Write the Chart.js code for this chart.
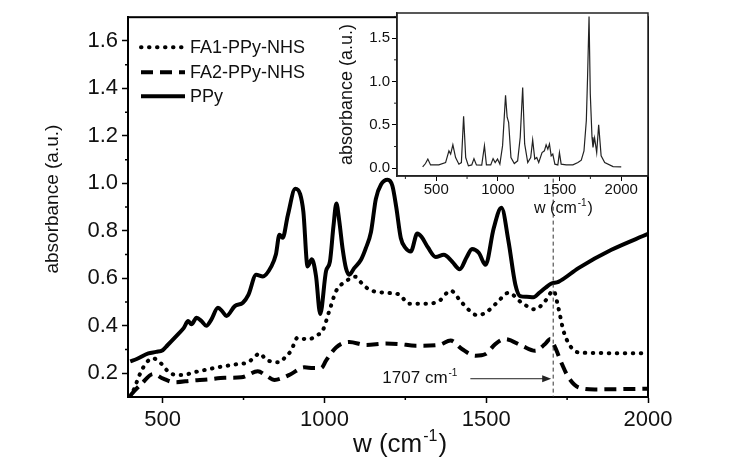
<!DOCTYPE html>
<html>
<head>
<meta charset="utf-8">
<title>Absorbance spectra</title>
<script src="https://cdn.jsdelivr.net/npm/chart.js@4.4.1/dist/chart.umd.min.js"></script>
<style>
html, body { margin: 0; padding: 0; background: #fff; }
#wrap { position: relative; width: 751px; height: 467px; }
#inset { position: absolute; left: 330px; top: 0; }
</style>
</head>
<body>
<div id="wrap">
<canvas id="main" width="751" height="467"></canvas>
<canvas id="inset" width="330" height="230"></canvas>
</div>
<script>
// main spectra: wavenumber (cm-1) and absorbance
var ppyW = [400, 420, 456, 480, 500, 515, 548, 565, 579, 589, 605, 620, 635, 650, 671, 685, 697, 723, 748, 765, 789, 810, 836, 850, 861, 871, 887, 910, 925, 935, 948, 961, 974, 987, 1005, 1017, 1028, 1037, 1046, 1056, 1067, 1077, 1092, 1113, 1128, 1144, 1159, 1175, 1195, 1210, 1222, 1236, 1251, 1267, 1287, 1300, 1320, 1344, 1369, 1395, 1418, 1440, 1456, 1477, 1498, 1523, 1547, 1569, 1590, 1605, 1625, 1646, 1665, 1682, 1700, 1723, 1785, 1887, 2000];
var ppyA = [0.25, 0.26, 0.284, 0.29, 0.297, 0.318, 0.365, 0.39, 0.42, 0.406, 0.434, 0.42, 0.40, 0.425, 0.476, 0.46, 0.441, 0.483, 0.497, 0.53, 0.615, 0.608, 0.65, 0.70, 0.783, 0.771, 0.866, 0.977, 0.955, 0.88, 0.65, 0.68, 0.61, 0.45, 0.63, 0.67, 0.82, 0.915, 0.84, 0.727, 0.64, 0.615, 0.643, 0.678, 0.727, 0.796, 0.935, 0.995, 1.015, 0.99, 0.9, 0.77, 0.727, 0.713, 0.789, 0.775, 0.73, 0.69, 0.699, 0.67, 0.638, 0.69, 0.724, 0.708, 0.657, 0.81, 0.897, 0.755, 0.574, 0.525, 0.522, 0.52, 0.54, 0.559, 0.577, 0.585, 0.643, 0.72, 0.787];

var fa1W = [400, 410, 430, 450, 470, 497, 515, 528, 558, 610, 671, 733, 764, 785, 800, 818, 836, 861, 880, 897, 917, 935, 954, 975, 994, 1015, 1036, 1066, 1095, 1115, 1138, 1190, 1231, 1261, 1313, 1354, 1390, 1425, 1472, 1498, 1533, 1569, 1610, 1651, 1682, 1708, 1723, 1739, 1759, 1785, 1850, 2000];
var fa1A = [0.10, 0.128, 0.197, 0.245, 0.263, 0.239, 0.21, 0.197, 0.193, 0.208, 0.225, 0.239, 0.246, 0.27, 0.284, 0.26, 0.249, 0.246, 0.27, 0.295, 0.35, 0.345, 0.344, 0.36, 0.378, 0.462, 0.546, 0.587, 0.607, 0.58, 0.553, 0.539, 0.532, 0.493, 0.493, 0.504, 0.548, 0.497, 0.445, 0.455, 0.497, 0.539, 0.497, 0.469, 0.504, 0.548, 0.476, 0.378, 0.316, 0.288, 0.285, 0.284];

var fa2W = [400, 405, 435, 471, 502, 538, 589, 640, 692, 743, 794, 820, 846, 870, 897, 938, 965, 990, 1005, 1036, 1077, 1128, 1190, 1231, 1282, 1354, 1390, 1425, 1467, 1498, 1528, 1559, 1610, 1651, 1682, 1698, 1713, 1734, 1754, 1785, 1836, 2000];
var fa2A = [0.105, 0.114, 0.156, 0.197, 0.177, 0.162, 0.169, 0.174, 0.181, 0.183, 0.208, 0.19, 0.172, 0.18, 0.197, 0.225, 0.222, 0.222, 0.253, 0.309, 0.332, 0.319, 0.325, 0.323, 0.316, 0.32, 0.338, 0.302, 0.274, 0.281, 0.323, 0.344, 0.316, 0.295, 0.323, 0.344, 0.309, 0.239, 0.183, 0.141, 0.132, 0.135];

// inset spectrum
var insW = [390, 413, 432, 454, 521, 576, 603, 617, 635, 657, 684, 704, 722, 739, 761, 788, 806, 826, 869, 891, 907, 942, 961, 978, 997, 1016, 1038, 1062, 1075, 1087, 1106, 1133, 1160, 1181, 1201, 1217, 1242, 1266, 1282, 1299, 1315, 1331, 1358, 1377, 1391, 1405, 1418, 1432, 1445, 1462, 1486, 1499, 1513, 1554, 1608, 1649, 1676, 1698, 1717, 1727, 1739, 1749, 1763, 1771, 1784, 1801, 1817, 1837, 1866, 1934, 2000];
var insA = [0.015, 0.054, 0.105, 0.038, 0.038, 0.065, 0.2, 0.163, 0.27, 0.123, 0.046, 0.065, 0.6, 0.123, 0.027, 0.038, 0.11, 0.038, 0.035, 0.26, 0.038, 0.038, 0.11, 0.065, 0.105, 0.046, 0.26, 0.84, 0.588, 0.53, 0.123, 0.054, 0.085, 0.356, 0.93, 0.28, 0.065, 0.123, 0.326, 0.105, 0.123, 0.065, 0.18, 0.2, 0.27, 0.22, 0.28, 0.143, 0.163, 0.046, 0.038, 0.18, 0.046, 0.038, 0.038, 0.065, 0.093, 0.2, 0.55, 1.05, 1.75, 0.86, 0.356, 0.24, 0.35, 0.18, 0.5, 0.143, 0.065, 0.019, 0.015];

// ticks
var xMajor = [500, 1000, 1500, 2000];
var xMinor = [750, 1250, 1750];
var yMajor = [0.2, 0.4, 0.6, 0.8, 1.0, 1.2, 1.4, 1.6];
var yMinor = [0.3, 0.5, 0.7, 0.9, 1.1, 1.3, 1.5];
var insXMajor = [500, 1000, 1500, 2000];
var insXMinor = [250, 750, 1250, 1750];
var insYMajor = [0.0, 0.5, 1.0, 1.5];
var insYMinor = [0.25, 0.75, 1.25, 1.75];

var peakW = 1707;
var FONT = '"Liberation Sans", Arial, sans-serif';

function pts(ws, as) {
    return ws.map(function (w, i) { return {x: w, y: as[i]}; });
}
function setTicks(majors, minors) {
    return function (scale) {
        scale.ticks = majors.concat(minors).sort(function (a, b) { return a - b; })
            .map(function (v) { return {value: v}; });
    };
}
function isMajor(list, v) {
    return list.some(function (m) { return Math.abs(m - v) < 1e-6; });
}
function tickCol(list) {
    return function (c) { return c.tick && isMajor(list, c.tick.value) ? '#000' : 'rgba(0,0,0,0)'; };
}
// text with a superscript part, centred (or left aligned) at x on baseline y
function supText(ctx, base, sup, tail, x, y, size, left) {
    var small = Math.round(size * 0.6);
    ctx.font = size + 'px ' + FONT;
    var w1 = ctx.measureText(base).width, w3 = ctx.measureText(tail).width;
    ctx.font = small + 'px ' + FONT;
    var w2 = ctx.measureText(sup).width;
    var x0 = left ? x : x - (w1 + w2 + w3) / 2;
    ctx.textAlign = 'left';
    ctx.textBaseline = 'alphabetic';
    ctx.font = size + 'px ' + FONT;
    ctx.fillText(base, x0, y);
    ctx.font = small + 'px ' + FONT;
    ctx.fillText(sup, x0 + w1 + 1, y - size * 0.42);
    ctx.font = size + 'px ' + FONT;
    ctx.fillText(tail, x0 + w1 + w2 + 2, y);
}
function minorTicks(ctx, chart, xs, ys, len) {
    var a = chart.chartArea;
    ctx.beginPath();
    xs.forEach(function (v) {
        var px = chart.scales.x.getPixelForValue(v);
        ctx.moveTo(px, a.bottom); ctx.lineTo(px, a.bottom + len);
    });
    ys.forEach(function (v) {
        var py = chart.scales.y.getPixelForValue(v);
        ctx.moveTo(a.left - len, py); ctx.lineTo(a.left, py);
    });
    ctx.stroke();
}

var mainDecor = {
    id: 'mainDecor',
    afterDraw: function (chart) {
        var ctx = chart.ctx, a = chart.chartArea;
        var xs = chart.scales.x, ys = chart.scales.y;
        ctx.save();
        ctx.strokeStyle = '#000';
        ctx.lineWidth = 2;
        ctx.strokeRect(a.left, a.top, a.right - a.left, a.bottom - a.top);
        ctx.lineWidth = 1.5;
        minorTicks(ctx, chart, xMinor, yMinor, 3);

        // marker line at 1707
        var px = xs.getPixelForValue(peakW);
        ctx.strokeStyle = '#333';
        ctx.lineWidth = 1;
        ctx.setLineDash([4, 3]);
        ctx.beginPath();
        ctx.moveTo(px, ys.getPixelForValue(1.02));
        ctx.lineTo(px, a.bottom);
        ctx.stroke();
        ctx.setLineDash([]);

        // arrow + label
        var ay = ys.getPixelForValue(0.177);
        var x0 = xs.getPixelForValue(1451), x1 = px - 2;
        ctx.strokeStyle = '#222';
        ctx.beginPath();
        ctx.moveTo(x0, ay); ctx.lineTo(x1 - 6, ay);
        ctx.stroke();
        ctx.fillStyle = '#222';
        ctx.beginPath();
        ctx.moveTo(x1, ay); ctx.lineTo(x1 - 9, ay - 3.5); ctx.lineTo(x1 - 9, ay + 3.5);
        ctx.closePath();
        ctx.fill();
        ctx.fillStyle = '#111';
        supText(ctx, '1707 cm', '-1', '', xs.getPixelForValue(1179), ys.getPixelForValue(0.158), 17, true);

        // legend
        var rows = [30, 55, 79];
        chart.data.datasets.forEach(function (d, i) {
            var y = a.top + rows[i];
            ctx.strokeStyle = '#000';
            ctx.lineWidth = d.borderWidth;
            ctx.lineCap = d.borderCapStyle || 'butt';
            ctx.setLineDash(d.borderDash || []);
            ctx.beginPath();
            ctx.moveTo(a.left + 13, y); ctx.lineTo(a.left + 57, y);
            ctx.stroke();
            ctx.setLineDash([]);
            ctx.lineCap = 'butt';
            ctx.fillStyle = '#111';
            ctx.font = '18px ' + FONT;
            ctx.textAlign = 'left';
            ctx.textBaseline = 'middle';
            ctx.fillText(d.label, a.left + 62, y + 1);
        });

        // axis titles
        ctx.fillStyle = '#111';
        supText(ctx, 'w (cm', '-1', ')', (a.left + a.right) / 2 + 11, a.bottom + 55, 26, false);
        ctx.save();
        ctx.translate(a.left - 75, (a.top + a.bottom) / 2 - 8);
        ctx.rotate(-Math.PI / 2);
        ctx.font = '19px ' + FONT;
        ctx.textAlign = 'center';
        ctx.textBaseline = 'middle';
        ctx.fillText('absorbance (a.u.)', 0, 0);
        ctx.restore();
        ctx.restore();
    }
};

var insetDecor = {
    id: 'insetDecor',
    beforeDraw: function (chart) {
        var ctx = chart.ctx, a = chart.chartArea;
        ctx.save();
        ctx.fillStyle = '#fff';
        ctx.fillRect(a.left, a.top, a.right - a.left, a.bottom - a.top);
        ctx.restore();
    },
    afterDraw: function (chart) {
        var ctx = chart.ctx, a = chart.chartArea;
        ctx.save();
        ctx.strokeStyle = '#222';
        ctx.lineWidth = 1.5;
        ctx.strokeRect(a.left, a.top, a.right - a.left, a.bottom - a.top);
        ctx.lineWidth = 1;
        minorTicks(ctx, chart, insXMinor, insYMinor, 3);
        ctx.fillStyle = '#111';
        supText(ctx, 'w (cm', '-1', ')', (a.left + a.right) / 2 + 40, a.bottom + 37, 16, false);
        ctx.translate(a.left - 50, (a.top + a.bottom) / 2);
        ctx.rotate(-Math.PI / 2);
        ctx.font = '18px ' + FONT;
        ctx.textAlign = 'center';
        ctx.textBaseline = 'middle';
        ctx.fillText('absorbance (a.u.)', 0, 0);
        ctx.restore();
    }
};

var mainChart = new Chart(document.getElementById('main'), {
    type: 'line',
    data: {
        datasets: [{
            label: 'FA1-PPy-NHS',
            data: pts(fa1W, fa1A),
            borderColor: '#000',
            borderWidth: 4,
            borderDash: [0.5, 7.5],
            borderCapStyle: 'round'
        }, {
            label: 'FA2-PPy-NHS',
            data: pts(fa2W, fa2A),
            borderColor: '#000',
            borderWidth: 4,
            borderDash: [12, 7]
        }, {
            label: 'PPy',
            data: pts(ppyW, ppyA),
            borderColor: '#000',
            borderWidth: 4
        }]
    },
    options: {
        responsive: false,
        animation: false,
        cubicInterpolationMode: 'monotone',
        elements: { point: { radius: 0 }, line: { cubicInterpolationMode: 'monotone' } },
        layout: { padding: { left: 0, top: 13, right: 103, bottom: 0 } },
        plugins: { legend: { display: false }, tooltip: { enabled: false } },
        scales: {
            x: {
                type: 'linear', min: 393, max: 2000,
                afterBuildTicks: setTicks(xMajor, xMinor),
                afterFit: function (s) { s.height = 70; },
                ticks: {
                    autoSkip: false, maxRotation: 0, padding: 4, color: '#111',
                    font: { size: 22, family: FONT },
                    callback: function (v) { return isMajor(xMajor, v) ? String(v) : ''; }
                },
                grid: { drawOnChartArea: false, tickLength: 6, tickWidth: 1.5, tickColor: tickCol(xMajor) },
                border: { color: '#000', width: 2 }
            },
            y: {
                type: 'linear', min: 0.1, max: 1.7,
                afterBuildTicks: setTicks(yMajor, yMinor),
                afterFit: function (s) { s.width = 128; },
                ticks: {
                    autoSkip: false, padding: 4, color: '#111',
                    font: { size: 22, family: FONT },
                    callback: function (v) { return isMajor(yMajor, v) ? v.toFixed(1) : ''; }
                },
                grid: { drawOnChartArea: false, tickLength: 6, tickWidth: 1.5, tickColor: tickCol(yMajor) },
                border: { color: '#000', width: 2 }
            }
        }
    },
    plugins: [mainDecor]
});

var insetChart = new Chart(document.getElementById('inset'), {
    type: 'line',
    data: {
        datasets: [{
            label: 'inset',
            data: pts(insW, insA),
            borderColor: '#222',
            borderWidth: 1.2,
            tension: 0
        }]
    },
    options: {
        responsive: false,
        animation: false,
        elements: { point: { radius: 0 } },
        layout: { padding: { left: 0, top: 13, right: 12, bottom: 0 } },
        plugins: { legend: { display: false }, tooltip: { enabled: false } },
        scales: {
            x: {
                type: 'linear', min: 182, max: 2217,
                afterBuildTicks: setTicks(insXMajor, insXMinor),
                afterFit: function (s) { s.height = 54; },
                ticks: {
                    autoSkip: false, maxRotation: 0, padding: 0, color: '#111',
                    font: { size: 15, family: FONT },
                    callback: function (v) { return isMajor(insXMajor, v) ? String(v) : ''; }
                },
                grid: { drawOnChartArea: false, tickLength: 5, tickColor: tickCol(insXMajor) },
                border: { color: '#222', width: 1.5 }
            },
            y: {
                type: 'linear', min: -0.09, max: 1.79,
                afterBuildTicks: setTicks(insYMajor, insYMinor),
                afterFit: function (s) { s.width = 67; },
                ticks: {
                    autoSkip: false, padding: 2, color: '#111',
                    font: { size: 15, family: FONT },
                    callback: function (v) { return isMajor(insYMajor, v) ? v.toFixed(1) : ''; }
                },
                grid: { drawOnChartArea: false, tickLength: 5, tickColor: tickCol(insYMajor) },
                border: { color: '#222', width: 1.5 }
            }
        }
    },
    plugins: [insetDecor]
});
</script>
</body>
</html>
